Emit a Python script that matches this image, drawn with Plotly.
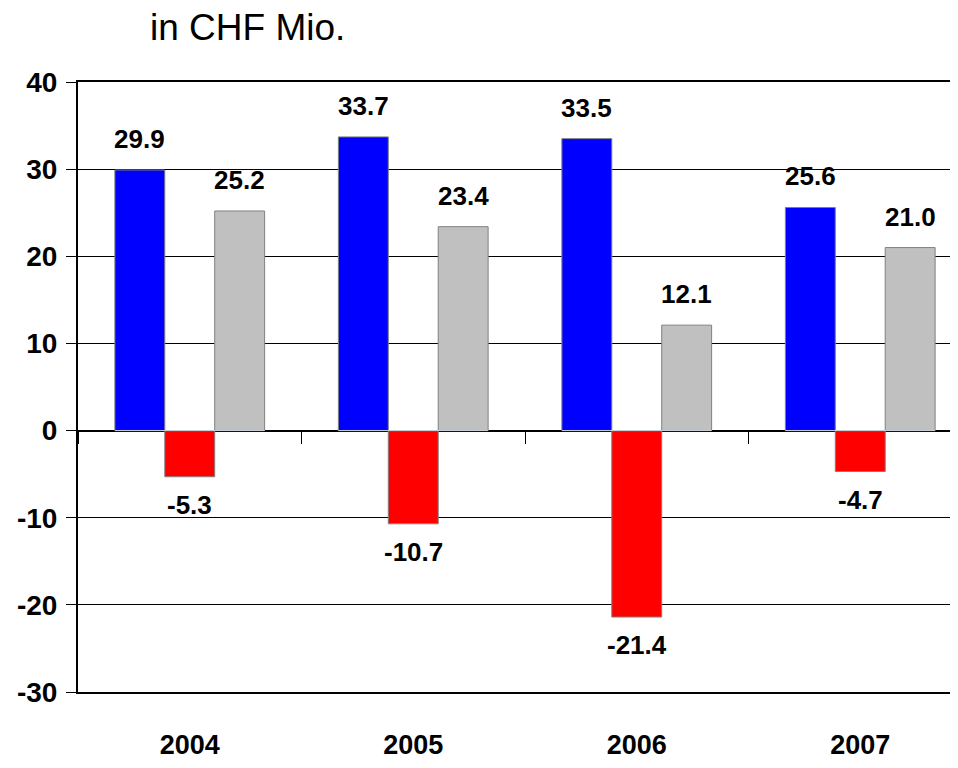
import plotly.graph_objects as go

years = ["2004", "2005", "2006", "2007"]
series_blue = [29.9, 33.7, 33.5, 25.6]
series_red = [-5.3, -10.7, -21.4, -4.7]
series_gray = [25.2, 23.4, 12.1, 21.0]
y_ticks = [-30, -20, -10, 0, 10, 20, 30, 40]
y_tick_labels = ["-30", "-20", "-10", "0", "10", "20", "30", "40"]
title_text = "in CHF Mio."

BOLD = "Liberation Sans Narrow, Arial Narrow, Liberation Sans, Arial, sans-serif"

# page body has an 8px default margin: figure is placed at (8, 8)
OFF = 8
W, H = 958 - OFF, 768 - OFF
L, T, B = 78 - OFF, 82 - OFF, 768 - 692
PW, PH = W - L, H - T - B
CAT = 223.5
XR = [-0.5, -0.5 + PW / CAT]

fig = go.Figure()
series = [(series_blue, "#0000FF"), (series_red, "#FF0000"), (series_gray, "#C0C0C0")]
for vals, col in series:
    fig.add_trace(go.Bar(x=years, y=vals, marker=dict(color=col, line=dict(color="#808080", width=1)),
                         showlegend=False, hoverinfo="skip"))

# invisible trace for category boundary ticks on the zero line
fig.add_trace(go.Bar(x=years, y=[0, 0, 0, 0], xaxis="x2", yaxis="y", showlegend=False,
                     marker=dict(color="rgba(0,0,0,0)"), hoverinfo="skip"))

annotations = []
for i, (vals, col) in enumerate(series):
    for j, v in enumerate(vals):
        # category axis position given as category index
        annotations.append(dict(x=j, y=v, xref="x", yref="y", text="<b>%.1f</b>" % v, showarrow=False,
                                xshift=(i - 1) * 50, yshift=31 if v >= 0 else -28,
                                font=dict(family=BOLD, size=26, color="black")))
annotations.append(dict(x=(148 - 78) / PW, y=(692 - 19 - OFF) / PH,
                        xref="paper", yref="paper",
                        xanchor="left", yanchor="middle", showarrow=False, text=title_text,
                        font=dict(family="Liberation Sans, Arial, sans-serif", size=37, color="black")))

fig.update_layout(
    width=W, height=H,
    margin=dict(l=L, r=0, t=T, b=B, pad=0, autoexpand=False),
    paper_bgcolor="white", plot_bgcolor="white",
    barmode="group", bargap=0.33, bargroupgap=0,
    annotations=annotations,
    xaxis=dict(type="category", range=XR, showgrid=False, automargin=False,
               showline=True, linecolor="black", linewidth=2, mirror=True, ticks="",
               tickfont=dict(family=BOLD, size=27, color="black", weight="bold"),
               ticklabelstandoff=28),
    xaxis2=dict(type="category", overlaying="x", range=XR, anchor="free", position=3 / 7,
                side="bottom", showgrid=False, showline=False, ticks="outside", ticklen=12,
                tickwidth=1, tickcolor="black", tickson="boundaries", showticklabels=False,
                automargin=False),
    yaxis=dict(range=[-30, 40], tickvals=y_ticks, ticktext=y_tick_labels, automargin=False,
               showgrid=True, gridcolor="black", gridwidth=1,
               zeroline=True, zerolinecolor="black", zerolinewidth=1.5,
               showline=True, linecolor="black", linewidth=2,
               ticks="outside", ticklen=10, tickcolor="black", tickwidth=1,
               tickfont=dict(family=BOLD, size=28, color="black", weight="bold"),
               ticklabelstandoff=3),
)

fig.write_html("out.html")
